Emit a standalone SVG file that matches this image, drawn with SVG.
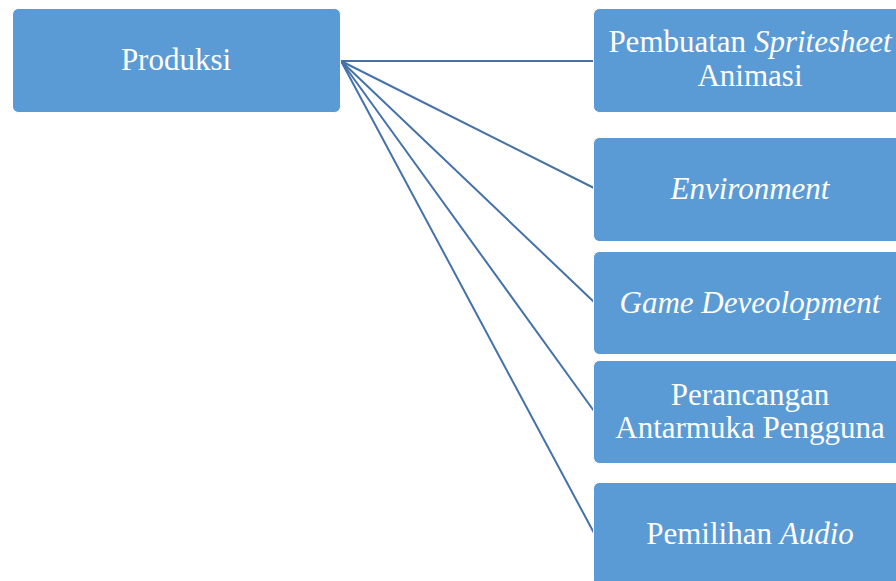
<svg xmlns="http://www.w3.org/2000/svg" width="896" height="581" viewBox="0 0 896 581">
<rect width="896" height="581" fill="#ffffff"/>
<g id="connectors" stroke="#4472A8" stroke-width="2" fill="none">
<line x1="341" y1="61" x2="594" y2="61"/>
<line x1="341" y1="61" x2="594" y2="188"/>
<line x1="341" y1="61" x2="594" y2="302"/>
<line x1="341" y1="61" x2="594" y2="411"/>
<line x1="341" y1="61" x2="594" y2="533"/>
</g>
<g id="produksi">
<rect x="12.5" y="8.5" width="328" height="104" rx="6" fill="#5B9BD5" stroke="#ffffff"/>
<text font-family="Liberation Serif" font-size="31" fill="#ffffff" text-anchor="middle" x="176" y="70">Produksi</text>
</g>
<g id="spritesheet">
<rect x="593.5" y="8.5" width="314" height="104" rx="6" fill="#5B9BD5" stroke="#ffffff"/>
<text font-family="Liberation Serif" font-size="31" fill="#ffffff" text-anchor="middle" x="750" y="52">Pembuatan <tspan font-style="italic">Spritesheet</tspan></text>
<text font-family="Liberation Serif" font-size="31" fill="#ffffff" text-anchor="middle" x="750" y="86">Animasi</text>
</g>
<g id="environment">
<rect x="593.5" y="137.5" width="314" height="104" rx="6" fill="#5B9BD5" stroke="#ffffff"/>
<text font-family="Liberation Serif" font-size="31" fill="#ffffff" text-anchor="middle" font-style="italic" x="750" y="199">Environment</text>
</g>
<g id="gamedev">
<rect x="593.5" y="251.5" width="314" height="103" rx="6" fill="#5B9BD5" stroke="#ffffff"/>
<text font-family="Liberation Serif" font-size="31" fill="#ffffff" text-anchor="middle" font-style="italic" x="750" y="313">Game Deveolopment</text>
</g>
<g id="ui">
<rect x="593.5" y="360.5" width="314" height="103" rx="6" fill="#5B9BD5" stroke="#ffffff"/>
<text font-family="Liberation Serif" font-size="31" fill="#ffffff" text-anchor="middle" x="750" y="405">Perancangan</text>
<text font-family="Liberation Serif" font-size="31" fill="#ffffff" text-anchor="middle" x="750" y="438">Antarmuka Pengguna</text>
</g>
<g id="audio">
<rect x="593.5" y="482.5" width="314" height="104" rx="6" fill="#5B9BD5" stroke="#ffffff"/>
<text font-family="Liberation Serif" font-size="31" fill="#ffffff" text-anchor="middle" x="750" y="544">Pemilihan <tspan font-style="italic">Audio</tspan></text>
</g>
</svg>
